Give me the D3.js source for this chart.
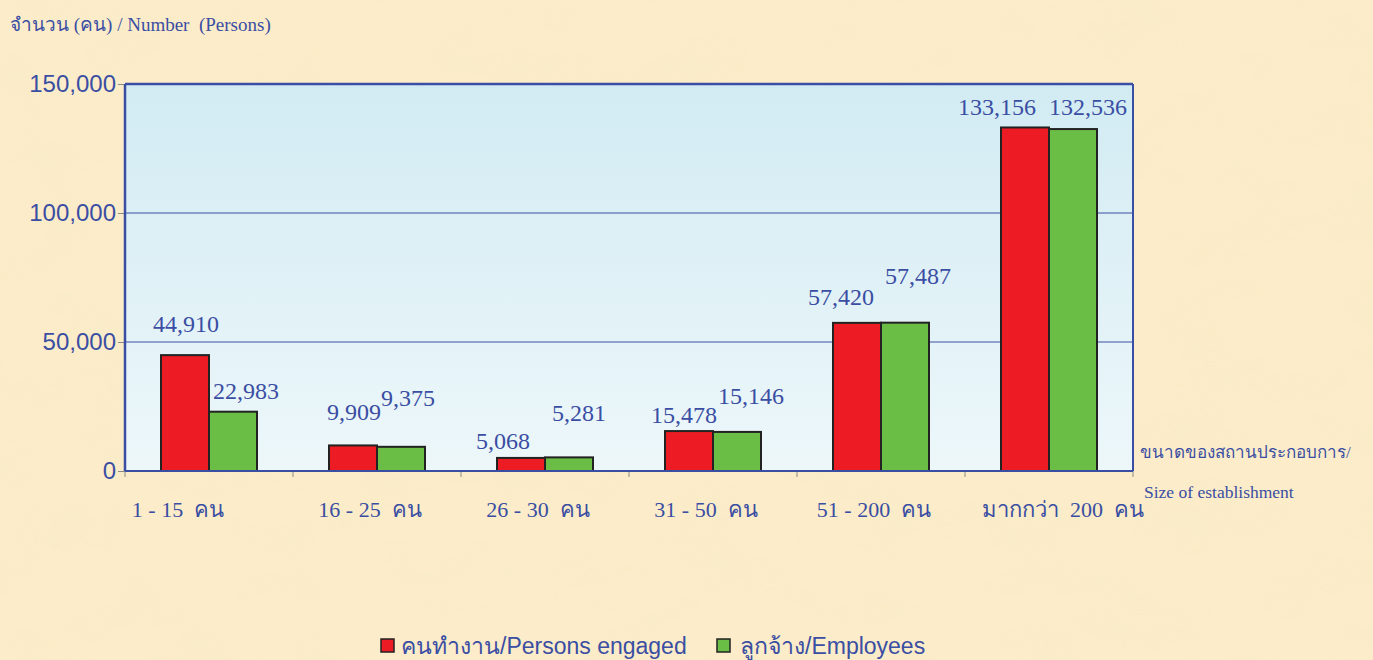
<!DOCTYPE html>
<html>
<head>
<meta charset="utf-8">
<script src="https://cdn.jsdelivr.net/npm/d3@7"></script>
<style>
  body { margin: 0; background: #fcecc9; overflow: hidden; }
  svg { display: block; }
</style>
</head>
<body>
<div id="chart-area"></div>
<script>
// data
const categories = ["1 - 15  คน", "16 - 25  คน", "26 - 30  คน", "31 - 50  คน", "51 - 200  คน", "มากกว่า  200  คน"]
const engaged = [44910, 9909, 5068, 15478, 57420, 133156]
const employees = [22983, 9375, 5281, 15146, 57487, 132536]
const seriesNames = ["คนทำงาน/Persons engaged", "ลูกจ้าง/Employees"]
const yTicks = [0, 50000, 100000, 150000]

// hand placed label nudges (like the original)
const labelDx = [[1, 1, -18, -5, -16, -28], [13, 7, 10, 14, 13, 15]]
const labelGap = [[23, 25, 9, 8, 18, 12], [13, 41, 36, 28, 39, 14]]
const catDx = [-31, -7, -7, -7, -7, 14]

const cw = 1373, ch = 660
const m = {l: 125, t: 84, r: 240, b: 189}
const w = cw - m.l - m.r
const h = ch - m.t - m.b

const blue = "#3a4ea3"
const colors = ["#ed1c24", "#6abd45"]

const svg = d3.select("#chart-area").append("svg")
    .attr("width", cw)
    .attr("height", ch)

const defs = svg.append("defs")

// parchment texture
const f = defs.append("filter").attr("id", "paper")
    .attr("x", 0).attr("y", 0).attr("width", "100%").attr("height", "100%")
f.append("feTurbulence")
    .attr("type", "fractalNoise")
    .attr("baseFrequency", "0.012 0.02")
    .attr("numOctaves", 3)
    .attr("seed", 7)
f.append("feColorMatrix")
    .attr("type", "matrix")
    .attr("values", "0 0 0 0 0.95  0 0 0 0 0.84  0 0 0 0 0.58  0 0 0 1.4 -0.55")

svg.append("rect").attr("width", cw).attr("height", ch).attr("fill", "#fcecc9")
svg.append("rect").attr("width", cw).attr("height", ch).attr("filter", "url(#paper)").attr("opacity", 0.7)

const grad = defs.append("linearGradient").attr("id", "plotbg")
    .attr("x1", 0).attr("y1", 0).attr("x2", 0).attr("y2", 1)
grad.append("stop").attr("offset", "0%").attr("stop-color", "#d2ebf3")
grad.append("stop").attr("offset", "100%").attr("stop-color", "#edf7fa")

const g = svg.append("g").attr("transform", "translate(" + m.l + ", " + m.t + ")")

const x = d3.scaleBand()
    .domain(categories)
    .range([0, w])

const xInner = d3.scaleBand()
    .domain([0, 1])
    .range([0, 96])

const y = d3.scaleLinear()
    .domain([0, 150000])
    .range([h, 0])

g.append("rect")
    .attr("width", w)
    .attr("height", h)
    .attr("fill", "url(#plotbg)")

// grid
g.selectAll(".grid")
    .data(yTicks.filter(d => d > 0 && d < 150000))
    .enter().append("line")
    .attr("x1", 0).attr("x2", w)
    .attr("y1", d => y(d)).attr("y2", d => y(d))
    .attr("stroke", blue)
    .attr("stroke-width", 1)

// y axis
const leftAxis = d3.axisLeft(y)
    .tickValues(yTicks)
    .tickSize(7)
    .tickFormat(d3.format(","))

const yAxisGroup = g.append("g").call(leftAxis)
yAxisGroup.select(".domain").remove()
yAxisGroup.selectAll("line").attr("stroke", "#8a8a8a")
yAxisGroup.selectAll("text")
    .attr("font-family", "Liberation Sans, Arial, sans-serif")
    .attr("font-size", "24px")
    .attr("fill", blue)
    .attr("dx", "1")

// x axis
const bottomAxis = d3.axisBottom(x).tickSize(0).tickPadding(30)
const xAxisGroup = g.append("g")
    .attr("transform", "translate(0, " + h + ")")
    .call(bottomAxis)
xAxisGroup.select(".domain").remove()
xAxisGroup.selectAll("text")
    .attr("font-family", "Liberation Serif, Times New Roman, serif")
    .attr("font-size", "22px")
    .attr("fill", blue)
    .attr("dx", (d, i) => catDx[i])
    .style("white-space", "pre")

const bounds = d3.range(categories.length + 1).map(i => i * x.step())
g.selectAll(".xtick")
    .data(bounds)
    .enter().append("line")
    .attr("x1", d => d).attr("x2", d => d)
    .attr("y1", h).attr("y2", h + 6)
    .attr("stroke", "#8a8a8a")

// bars
const series = [engaged, employees]
series.forEach((vals, s) => {
    const bars = g.append("g")
    bars.selectAll("rect")
        .data(vals)
        .enter().append("rect")
        .attr("x", (d, i) => x(categories[i]) + (x.bandwidth() - 96) / 2 + xInner(s))
        .attr("y", d => y(d))
        .attr("width", xInner.bandwidth())
        .attr("height", d => h - y(d))
        .attr("fill", colors[s])
        .attr("stroke", "#222")
        .attr("stroke-width", 2)

    bars.selectAll("text")
        .data(vals)
        .enter().append("text")
        .attr("x", (d, i) => x(categories[i]) + (x.bandwidth() - 96) / 2 + xInner(s) + xInner.bandwidth() / 2 + labelDx[s][i])
        .attr("y", (d, i) => y(d) - labelGap[s][i])
        .attr("text-anchor", "middle")
        .attr("font-family", "Liberation Serif, Times New Roman, serif")
        .attr("font-size", "24px")
        .attr("fill", blue)
        .text(d => d3.format(",")(d))
})

// frame
g.append("line").attr("x1", 0).attr("x2", w).attr("y1", 0).attr("y2", 0).attr("stroke", blue).attr("stroke-width", 2.5)
g.append("line").attr("x1", w).attr("x2", w).attr("y1", 0).attr("y2", h).attr("stroke", blue).attr("stroke-width", 2)
g.append("line").attr("x1", 0).attr("x2", 0).attr("y1", 0).attr("y2", h).attr("stroke", blue).attr("stroke-width", 2.5)
g.append("line").attr("x1", 0).attr("x2", w).attr("y1", h).attr("y2", h).attr("stroke", blue).attr("stroke-width", 2)

// titles
svg.append("text")
    .attr("x", 10)
    .attr("y", 31)
    .attr("font-family", "Liberation Serif, Times New Roman, serif")
    .attr("font-size", "19px")
    .attr("fill", blue)
    .style("white-space", "pre")
    .text("จำนวน (คน) / Number  (Persons)")

svg.append("text")
    .attr("x", m.l + w + 7)
    .attr("y", 458)
    .attr("font-family", "Liberation Serif, Times New Roman, serif")
    .attr("font-size", "17px")
    .attr("fill", blue)
    .text("ขนาดของสถานประกอบการ/")

svg.append("text")
    .attr("x", m.l + w + 11)
    .attr("y", 498)
    .attr("font-family", "Liberation Serif, Times New Roman, serif")
    .attr("font-size", "17.5px")
    .attr("fill", blue)
    .text("Size of establishment")

// legend
const legendX = [381, 717]
const legend = svg.append("g").attr("transform", "translate(0, 639)")
const items = legend.selectAll("g")
    .data(seriesNames)
    .enter().append("g")
    .attr("transform", (d, i) => `translate(${legendX[i]}, 0)`)

items.append("rect")
    .attr("width", 13)
    .attr("height", 13)
    .attr("fill", (d, i) => colors[i])
    .attr("stroke", "#222")
    .attr("stroke-width", 1.5)

items.append("text")
    .attr("x", (d, i) => i === 0 ? 20 : 23)
    .attr("y", 15)
    .attr("font-family", "Liberation Sans, Arial, sans-serif")
    .attr("font-size", "23px")
    .attr("fill", blue)
    .text(d => d)
</script>
</body>
</html>
